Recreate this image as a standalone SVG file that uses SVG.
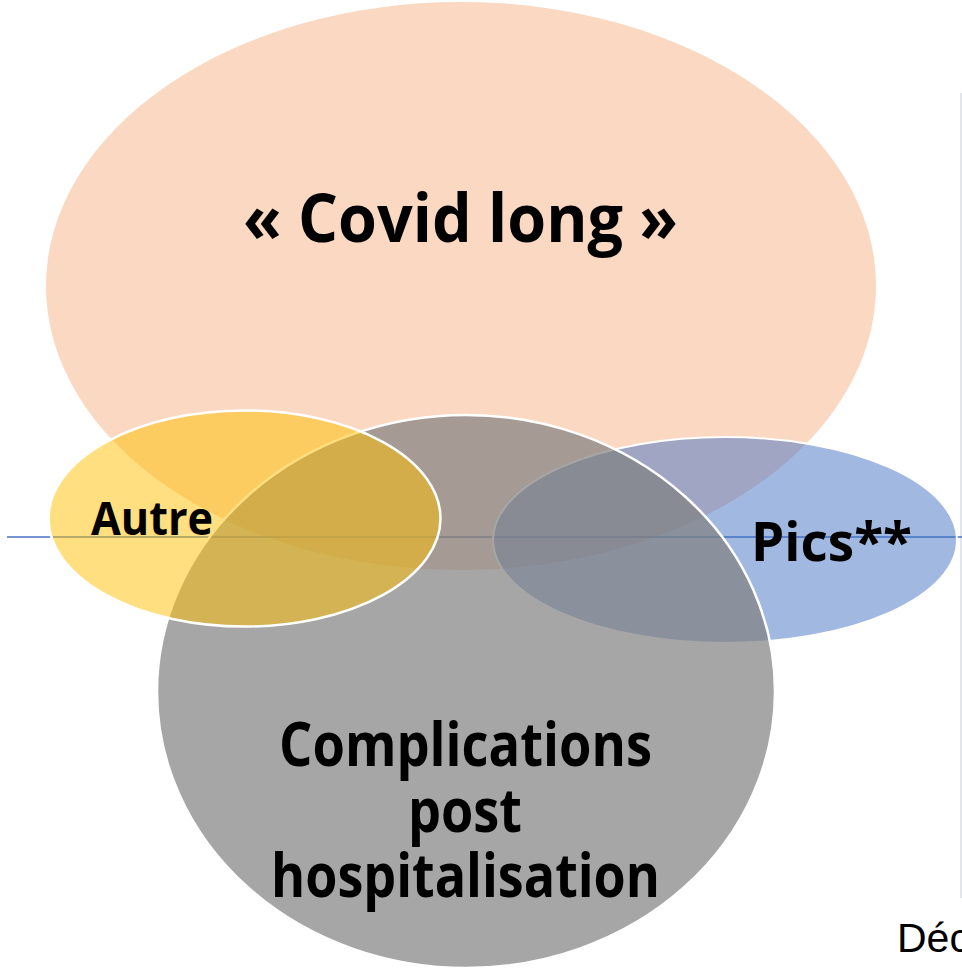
<svg xmlns="http://www.w3.org/2000/svg" width="962" height="973" viewBox="0 0 962 973">
<style>
.lbl{font-family:"Open Sans","Noto Sans","Liberation Sans",sans-serif;font-weight:bold;fill:#000}
.small{font-family:"Liberation Sans",Arial,sans-serif;fill:#000}
</style>
<rect width="962" height="973" fill="#ffffff"/>
<g id="axes">
<line x1="961" y1="93" x2="961" y2="898" stroke="#d9dde6" stroke-width="1.5"/>
<line x1="7" y1="537" x2="962" y2="537" stroke="#4472C4" stroke-width="1.3"/>
</g>
<g id="covid-long">
<ellipse cx="461" cy="286" rx="415" ry="284" fill="#ED7D31" fill-opacity="0.3"/>
</g>
<g id="pics">
<ellipse cx="725" cy="540" rx="232" ry="103" fill="#4472C4" fill-opacity="0.5" stroke="#ffffff" stroke-width="2"/>
</g>
<g id="complications">
<ellipse cx="466" cy="691.5" rx="309" ry="276.5" fill="#808080" fill-opacity="0.7" stroke="#ffffff" stroke-width="2.5"/>
</g>
<g id="autre">
<ellipse cx="244.5" cy="518.5" rx="196" ry="108" fill="#FFC000" fill-opacity="0.5" stroke="#ffffff" stroke-width="2.5"/>
</g>
<g id="labels">
<text class="lbl" x="243" y="242" font-size="66" textLength="435" lengthAdjust="spacingAndGlyphs">« Covid long »</text>
<text class="lbl" x="91" y="535" font-size="46" textLength="122" lengthAdjust="spacingAndGlyphs">Autre</text>
<text class="lbl" x="751" y="561" font-size="54" textLength="161" lengthAdjust="spacingAndGlyphs">Pics**</text>
<text class="lbl" x="279" y="766" font-size="60" textLength="373" lengthAdjust="spacingAndGlyphs">Complications</text>
<text class="lbl" x="408" y="832" font-size="60" textLength="114" lengthAdjust="spacingAndGlyphs">post</text>
<text class="lbl" x="271" y="897" font-size="60" textLength="389" lengthAdjust="spacingAndGlyphs">hospitalisation</text>
<text class="small" x="897" y="952" font-size="41">Déc</text>
</g>
</svg>
